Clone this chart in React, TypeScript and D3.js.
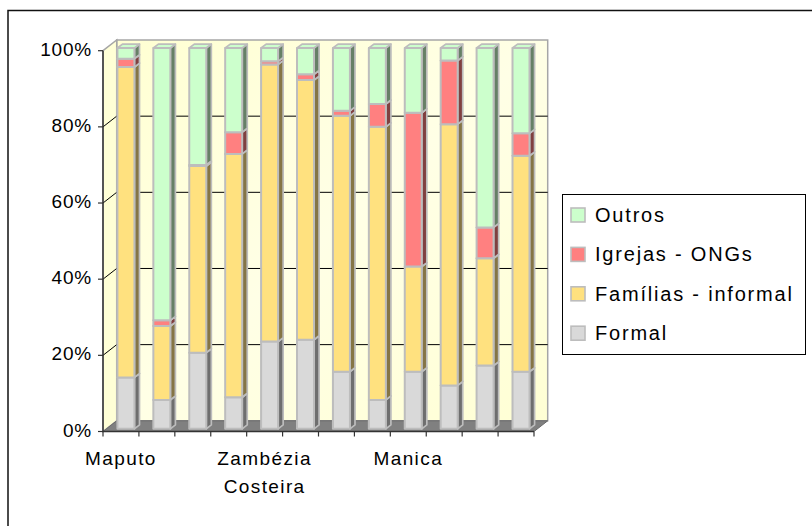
import React from "react";
import * as d3 from "d3";

// Regions along the category axis (only every fourth one carries a label)
const categories = ["Maputo", "", "", "", "Zambézia Costeira", "", "", "", "Manica", "", "", ""];

// Share of each source of support, in percent, per region
const formal = [13.5, 7.6, 20.0, 8.3, 22.9, 23.4, 15.0, 7.6, 15.0, 11.4, 16.6, 15.0];
const familias = [81.5, 19.4, 49.0, 63.9, 72.8, 68.2, 67.2, 71.7, 27.6, 68.6, 28.2, 56.7];
const igrejas = [2.2, 1.5, 0.3, 5.7, 0.8, 1.5, 1.3, 6.0, 40.4, 16.7, 8.1, 5.9];
const outros = [2.8, 71.5, 30.7, 22.1, 3.5, 6.9, 16.5, 14.7, 17.0, 3.3, 47.1, 22.4];

const seriesNames = ["Formal", "Famílias - informal", "Igrejas - ONGs", "Outros"];
const yTicks = [0, 0.2, 0.4, 0.6, 0.8, 1];

const W = 812;
const H = 526;
const FONT = "'Liberation Sans', Arial, sans-serif";

// Face colours per series: front/top and the shaded right side
const FRONT = ["#D9D9D9", "#FFE17F", "#FF8080", "#CCFFCC"];
const SIDE = ["#6E6E6E", "#857545", "#804040", "#668066"];
const EDGE = "#BDBDBD";

// Depth of the 3D box and the bar slab within it
const DX = 13.7;
const DY = 10.7;
const Z0 = 0.25;
const Z1 = 0.62;

export default function App() {
  const rows = categories.map((c, i) => ({
    cat: i,
    "Formal": formal[i],
    "Famílias - informal": familias[i],
    "Igrejas - ONGs": igrejas[i],
    "Outros": outros[i],
  }));
  const stacked = d3.stack<any>().keys(seriesNames).offset(d3.stackOffsetExpand)(rows);

  const x = d3.scaleBand<number>().domain(categories.map((_, i) => i)).range([103, 534]).padding(0);
  const y = d3.scaleLinear().domain([0, 1]).range([431.5, 50.7]);
  const barOff = 11;
  const barW = 17;

  const P = (px: number, v: number, z: number) => [px + z * DX, y(v) - z * DY] as [number, number];
  const pts = (a: [number, number][]) => a.map((p) => p.join(",")).join(" ");

  const x0 = 103;
  const x1 = 534;

  const bars: React.ReactNode[] = [];
  categories.forEach((_, i) => {
    const bl = (x(i) as number) + barOff;
    const br = bl + barW;
    stacked.forEach((s, si) => {
      const [v0, v1] = s[i];
      if (v1 - v0 <= 0) return;
      const front = [P(bl, v0, Z0), P(br, v0, Z0), P(br, v1, Z0), P(bl, v1, Z0)];
      const side = [P(br, v0, Z0), P(br, v0, Z1), P(br, v1, Z1), P(br, v1, Z0)];
      const top = [P(bl, v1, Z0), P(br, v1, Z0), P(br, v1, Z1), P(bl, v1, Z1)];
      bars.push(
        <g key={`b${i}-${si}`}>
          <polygon points={pts(side)} fill={SIDE[si]} stroke={EDGE} strokeWidth={1.7} strokeLinejoin="round" />
          <polygon points={pts(top)} fill={FRONT[si]} stroke={EDGE} strokeWidth={1.7} strokeLinejoin="round" />
          <polygon points={pts(front)} fill={FRONT[si]} stroke={EDGE} strokeWidth={2} strokeLinejoin="round" />
        </g>
      );
    });
  });

  const backWall = [P(x0, 1, 1), P(x1, 1, 1), P(x1, 0, 1), P(x0, 0, 1)];
  const sideWall = [P(x0, 1, 0), P(x0, 1, 1), P(x0, 0, 1), P(x0, 0, 0)];
  const floor = [P(x0, 0, 0), P(x1, 0, 0), P(x1, 0, 1), P(x0, 0, 1)];

  const legendItems = [...seriesNames].reverse();

  return (
    <div style={{ position: "fixed", left: 0, top: 0 }}>
      <svg width={W} height={H} viewBox={`0 0 ${W} ${H}`} style={{ display: "block", background: "#fff" }}>
        <defs>
          <linearGradient id="wall" x1="0" y1="0" x2="1" y2="1">
            <stop offset="0" stopColor="#FFFFD2" />
            <stop offset="0.5" stopColor="#FFFFE6" />
            <stop offset="1" stopColor="#FFFFD4" />
          </linearGradient>
        </defs>

        {/* chart area frame */}
        <rect x={8} y={10.5} width={900} height={600} fill="none" stroke="#111" strokeWidth={1.5} />

        {/* walls and floor */}
        <polygon points={pts(backWall)} fill="url(#wall)" stroke="#A6A6A6" strokeWidth={1.5} />
        <polygon points={pts(sideWall)} fill="#FFFFD6" stroke="#A6A6A6" strokeWidth={1.5} />
        <polygon points={pts(floor)} fill="#808080" stroke="#6A6A6A" strokeWidth={1} />

        {/* gridlines */}
        {yTicks.filter((t) => t > 0 && t < 1).map((t) => (
          <polyline
            key={`g${t}`}
            points={pts([P(x0, t, 0), P(x0, t, 1), P(x1, t, 1)])}
            fill="none"
            stroke="#000"
            strokeWidth={1}
          />
        ))}

        {bars}

        {/* value axis */}
        <line x1={x0} y1={y(0)} x2={x0} y2={y(1)} stroke="#333" strokeWidth={1.5} />
        {yTicks.map((t) => (
          <g key={`t${t}`}>
            <line x1={x0 - 5} x2={x0} y1={y(t)} y2={y(t)} stroke="#333" strokeWidth={1.2} />
            <text
              x={92}
              y={y(t) + 5}
              textAnchor="end"
              fontFamily={FONT}
              fontSize={19}
              letterSpacing={0.8}
              fill="#000"
            >
              {`${Math.round(t * 100)}%`}
            </text>
          </g>
        ))}

        {/* category axis */}
        <line x1={x0} x2={x1} y1={y(0)} y2={y(0)} stroke="#333" strokeWidth={1.5} />
        {d3.range(categories.length + 1).map((k) => {
          const px = k < categories.length ? (x(k) as number) : x1;
          return <line key={`c${k}`} x1={px} x2={px} y1={y(0)} y2={y(0) + 5} stroke="#333" strokeWidth={1.2} />;
        })}
        {categories.map((c, i) =>
          c ? (
            <text
              key={`l${i}`}
              x={(x(i) as number) + x.bandwidth() / 2}
              y={465}
              textAnchor="middle"
              fontFamily={FONT}
              fontSize={19}
              letterSpacing={1.4}
              fill="#000"
            >
              {c.split(" ").map((w, wi) => (
                <tspan key={wi} x={(x(i) as number) + x.bandwidth() / 2} dy={wi === 0 ? 0 : 27.5}>
                  {w}
                </tspan>
              ))}
            </text>
          ) : null
        )}

        {/* legend */}
        <rect x={562.5} y={194.5} width={243} height={160} fill="#fff" stroke="#000" strokeWidth={1} />
        {legendItems.map((name, k) => {
          const si = seriesNames.indexOf(name);
          const cy = 215 + k * 39.4;
          return (
            <g key={name}>
              <rect x={571} y={cy - 7} width={14} height={14} fill={FRONT[si]} stroke={EDGE} strokeWidth={1.6} />
              <text x={595} y={cy + 7} fontFamily={FONT} fontSize={20} letterSpacing={1.8} fill="#000">
                {name}
              </text>
            </g>
          );
        })}
      </svg>
    </div>
  );
}
